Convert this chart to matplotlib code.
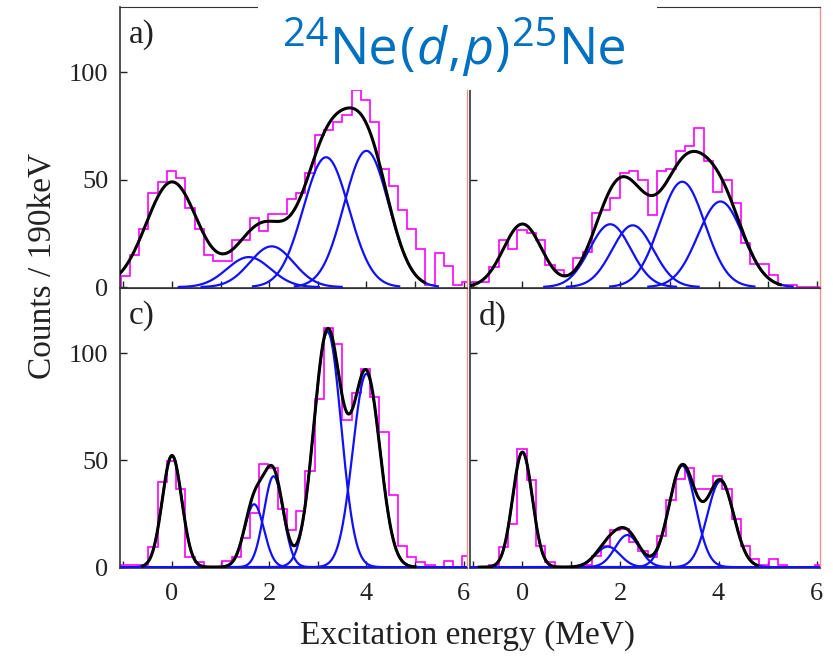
import numpy as np
import matplotlib
matplotlib.use('Agg')
from matplotlib import pyplot as plt
from matplotlib.patches import Rectangle
from matplotlib.ticker import MultipleLocator

# histogram bins (190 keV) start at the left axis edge
BIN_START = -1.055
BIN_WIDTH = 0.19
X_LIM = (-1.07, 6.07)

counts_a = [5, 15, 27, 44, 49, 54, 51, 37, 27, 15, 12, 12, 22, 22, 32, 26, 34, 34, 41,
            44, 53, 71, 73, 77, 80, 92, 87, 77, 55, 47, 36, 27, 18, 1, 16, 10, 1, 2.5]
counts_b = [2.5, 2.5, 9.5, 22, 18, 26.6, 25, 22, 10.3, 8, 5.6, 13.4, 16.5, 34.4, 36, 41.4,
            53.1, 53.9, 50, 33.6, 53.9, 55, 63.2, 65.6, 74.1, 58.6, 44.5, 50, 39, 20.4,
            11, 11, 5.6, 1, 1, 0, 0, 0]
counts_c = [0.8, 1, 1, 9.4, 39.7, 49.5, 36.3, 4.6, 2.6, 0, 0, 3, 4.6, 13.4, 25.5, 48.4,
            46.4, 27.4, 17.5, 26.3, 45.1, 78.4, 111.7, 104.3, 68.8, 81.5, 92.7, 79.6,
            63.4, 33.7, 10, 4.6, 2.3, 1, 0, 3, 0, 5]
counts_d = [0, 0, 1, 9.6, 20.4, 55.2, 40.6, 9.7, 2.3, 0, 0, 0, 1, 5.4, 9.7, 17.5, 17.8,
            11.6, 7.7, 4.6, 14.7, 31.4, 41, 46.4, 36.3, 36.3, 42.5, 36.3, 22.4, 9.7,
            3.6, 1, 3.6, 1, 0, 0, 0, 0.8]

# fitted gaussian states: centroid (MeV), height (counts), sigma (MeV)
centers_a = [0.0, 1.58, 2.05, 3.17, 4.0]
heights_a = [49, 14, 19, 60.5, 63.5]
sigmas_a = [0.53, 0.45, 0.45, 0.47, 0.46]

centers_b = [0.0, 1.79, 2.25, 3.26, 4.04]
heights_b = [29.4, 29.3, 28.8, 49.1, 39.9]
sigmas_b = [0.39, 0.42, 0.42, 0.46, 0.46]

centers_c = [0.0, 1.69, 2.09, 3.2, 4.0]
heights_c = [52.2, 29.4, 42.5, 110, 90.4]
sigmas_c = [0.2, 0.2, 0.2, 0.28, 0.28]

centers_d = [0.0, 1.74, 2.14, 3.26, 4.04]
heights_d = [53.8, 9.6, 15, 47.4, 40.2]
sigmas_d = [0.2, 0.25, 0.25, 0.27, 0.27]

PANEL_LABELS = ['a)', None, 'c)', 'd)']
SUM_RANGES = [(-1.07, 5.2), (-1.07, 5.26), (-0.6, 5.0), (-0.88, 4.8)]
FULL_BLUE = [False, False, True, True]

# title pieces: text, is superscript, is italic
TITLE_PARTS = [('24', True, False), ('Ne', False, False), ('(', False, False),
               ('d', False, True), (',', False, False), ('p', False, True),
               (')', False, False), ('25', True, False), ('Ne', False, False)]

COLOR_HIST = '#ff00ff'
COLOR_PART = '#1010ff'
COLOR_SUM = 'black'
COLOR_TITLE = '#0070c0'
SERIF = 'Liberation Serif'
TITLE_FONT = 'Open Sans'

plt.rcParams['font.family'] = SERIF

W, H = 833, 656
fig = plt.figure(figsize=(W / 100, H / 100), dpi=100)


def px_axes(x0, y0, x1, y1):
    return fig.add_axes([x0 / W, 1 - y1 / H, (x1 - x0) / W, (y1 - y0) / H])


axes = [px_axes(120, 7, 467, 288), px_axes(470, 7, 820, 288),
        px_axes(120, 288, 467, 568), px_axes(470, 288, 820, 568)]

panels = [(counts_a, centers_a, heights_a, sigmas_a),
          (counts_b, centers_b, heights_b, sigmas_b),
          (counts_c, centers_c, heights_c, sigmas_c),
          (counts_d, centers_d, heights_d, sigmas_d)]


def gauss(x, c, h, s):
    return h * np.exp(-(x - c) ** 2 / (2 * s ** 2))


for i, (ax, (counts, cs, hs, ss)) in enumerate(zip(axes, panels)):
    edges = BIN_START + BIN_WIDTH * np.arange(len(counts) + 1)
    ax.stairs(counts, edges, color=COLOR_HIST, lw=1.2, zorder=2)

    for c, h, s in zip(cs[1:], hs[1:], ss[1:]):
        if FULL_BLUE[i]:
            xs = np.linspace(X_LIM[0], X_LIM[1], 600)
        else:
            xs = np.linspace(c - 3.2 * s, c + 3.2 * s, 300)
        ax.plot(xs, gauss(xs, c, h, s), color=COLOR_PART, lw=1.6, zorder=3)
    if FULL_BLUE[i]:
        xs = np.linspace(X_LIM[0], X_LIM[1], 600)
        ax.plot(xs, gauss(xs, cs[0], hs[0], ss[0]), color=COLOR_PART, lw=1.6, zorder=3)

    xs = np.linspace(SUM_RANGES[i][0], SUM_RANGES[i][1], 800)
    total = sum(gauss(xs, c, h, s) for c, h, s in zip(cs, hs, ss))
    ax.plot(xs, total, color=COLOR_SUM, lw=2.2, zorder=4)

    ax.set_xlim(*X_LIM)
    ax.set_ylim(-0.4, 130.5)
    ax.xaxis.set_major_locator(MultipleLocator(2))
    ax.xaxis.set_minor_locator(MultipleLocator(1))
    ax.yaxis.set_major_locator(MultipleLocator(50))
    ax.tick_params(which='both', direction='in', length=5, width=1, colors='#222222',
                   labelsize=19, top=False, right=False)
    ax.tick_params(axis='x', pad=11)
    ax.tick_params(axis='y', pad=8.5)
    for side in ['left', 'bottom', 'top']:
        ax.spines[side].set_linewidth(1.2)
        ax.spines[side].set_color('#333333')
    ax.spines['top'].set_linewidth(0.8)
    ax.spines['right'].set_color('#f09090')
    ax.spines['right'].set_linewidth(1.0)
    if i < 2:
        ax.tick_params(labelbottom=False)
    if i % 2 == 1:
        ax.tick_params(labelleft=False)
    if PANEL_LABELS[i]:
        ax.text(0.025, 0.955, PANEL_LABELS[i], transform=ax.transAxes, fontsize=24,
                va='top', ha='left', color='#222222')

fig.text(43 / W, 1 - 266 / H, 'Counts / 190keV', rotation=90, fontsize=24,
         ha='center', va='center', color='#222222')
fig.text(468 / W, 1 - 644 / H, 'Excitation energy (MeV)', fontsize=24,
         ha='center', va='baseline', color='#222222')

# title block pasted over the top of the panels
fig.patches.append(Rectangle((258 / W, 1 - 90 / H), 399 / W, 90 / H,
                             transform=fig.transFigure, facecolor='white',
                             edgecolor='none', zorder=10))

renderer = fig.canvas.get_renderer()
title_texts = []
x_px = 0.0
baseline = 64
gap = 1.5
for part, sup, ital in TITLE_PARTS:
    t = fig.text(0, 0, part, fontsize=28.5 if sup else 37.5, family=TITLE_FONT,
                 style='italic' if ital else 'normal', color=COLOR_TITLE,
                 ha='left', va='baseline', zorder=11)
    t._px = x_px
    t._dy = 18 if sup else 0
    x_px += t.get_window_extent(renderer).width + gap
    title_texts.append(t)
x_px -= gap
start = 455 - x_px / 2
for t in title_texts:
    t.set_position(((start + t._px) / W, 1 - (baseline - t._dy) / H))

plt.savefig('out.png', dpi=100)
